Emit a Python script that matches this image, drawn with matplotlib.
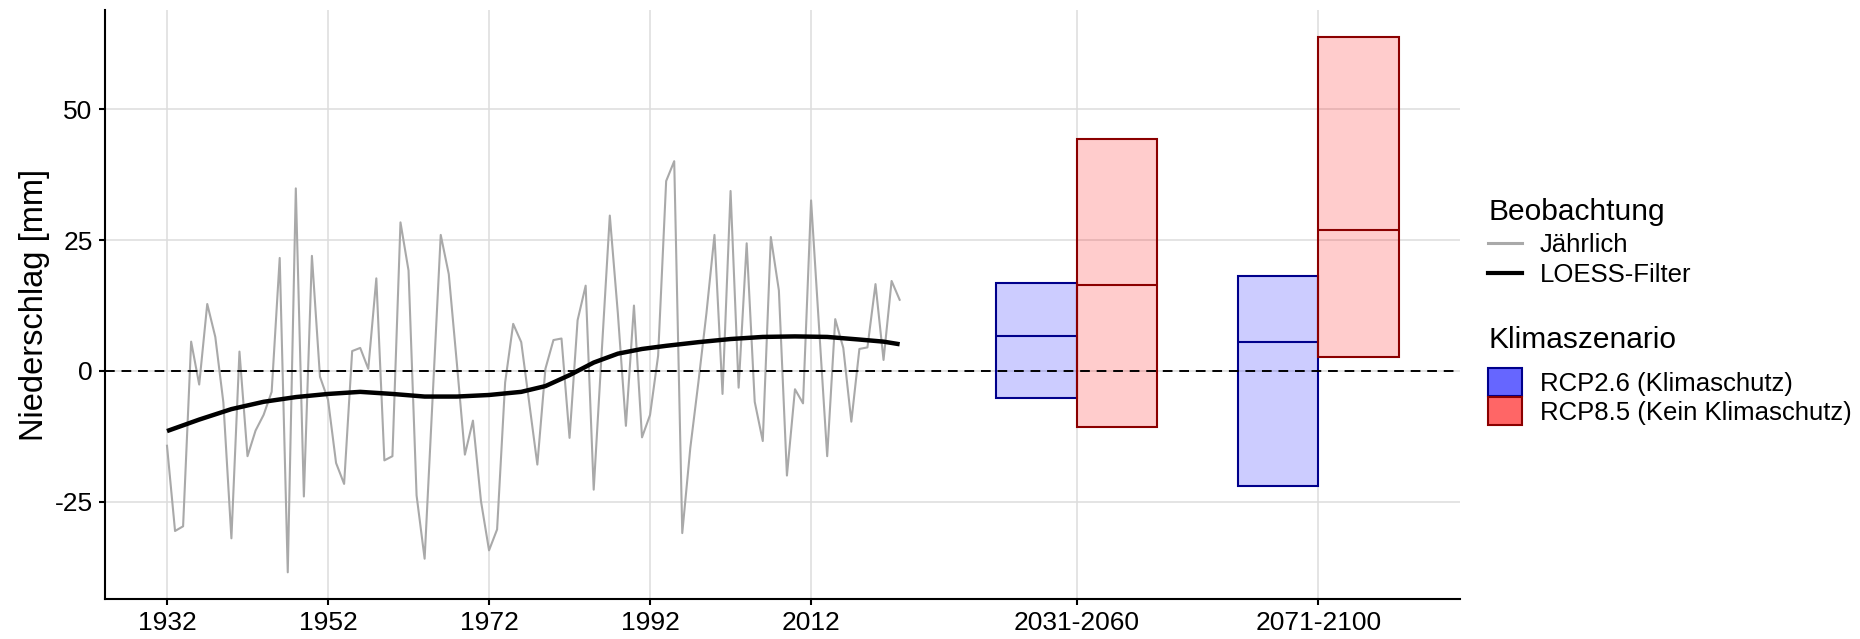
import numpy as np
import matplotlib
matplotlib.use('Agg')
import matplotlib.pyplot as plt
from matplotlib.lines import Line2D
from matplotlib.patches import Patch

plt.rcParams['font.family'] = ['Liberation Sans', 'DejaVu Sans']
plt.rcParams['axes.unicode_minus'] = False

# jährliche Niederschlagsabweichung (mm), 1932-2023
jahre = list(range(1932, 2024))
jaehrlich = [-14.3, -30.6, -29.7, 5.6, -2.6, 12.8, 6.5, -6.0, -32.0, 3.7,
             -16.3, -11.4, -8.4, -4.0, 21.6, -38.5, 34.9, -24.0, 22.0, -1.1,
             -5.5, -17.6, -21.6, 3.8, 4.4, 0.4, 17.7, -17.1, -16.3, 28.4,
             19.2, -23.8, -35.9, -4.9, 26.0, 18.5, 1.5, -16.0, -9.5, -24.9,
             -34.3, -30.3, -2.2, 9.0, 5.5, -6.2, -17.9, 0.4, 5.9, 6.2,
             -12.8, 9.7, 16.3, -22.7, 3.7, 29.7, 11.0, -10.5, 12.5, -12.7,
             -8.4, 2.9, 36.3, 40.1, -31.0, -14.7, -2.2, 11.0, 26.0, -4.4,
             34.4, -3.2, 24.4, -5.9, -13.4, 25.6, 15.4, -20.0, -3.5, -6.2,
             32.6, 8.1, -16.3, 9.9, 4.4, -9.7, 4.2, 4.5, 16.6, 2.1,
             17.2, 13.6]

# LOESS-Filter
loess_jahre = [1932, 1936, 1940, 1944, 1948, 1952, 1956, 1960, 1964, 1968,
               1972, 1976, 1979, 1982, 1985, 1988, 1991, 1994, 1998, 2002,
               2006, 2010, 2014, 2018, 2021, 2023]
loess = [-11.5, -9.3, -7.3, -5.9, -5.0, -4.4, -4.0, -4.4, -4.9, -4.9,
         -4.6, -4.0, -2.9, -0.8, 1.6, 3.3, 4.2, 4.8, 5.5, 6.1,
         6.5, 6.6, 6.5, 6.0, 5.6, 5.1]

# Klimaszenarien: Zeitraum, Position, unten / Median / oben
zeitraeume = ['2031-2060', '2071-2100']
zeitraum_pos = [2045, 2075]
rcp26_unten = [-5.1, -22.0]
rcp26_median = [6.7, 5.5]
rcp26_oben = [16.9, 18.2]
rcp85_unten = [-10.8, 2.65]
rcp85_median = [16.4, 27.0]
rcp85_oben = [44.3, 63.9]

year_ticks = [1932, 1952, 1972, 1992, 2012]

fig = plt.figure(figsize=(18.6, 6.39), dpi=100)
ax = fig.add_axes([105/1860, 1-599/639, (1460-105)/1860, (599-10)/639])

ax.plot(jahre, jaehrlich, color='#A9A9A9', lw=1.5, zorder=2)
ax.plot(loess_jahre, loess, color='black', lw=3.2, zorder=3,
        solid_capstyle='butt')

breite = 10
ax.bar(zeitraum_pos, np.array(rcp26_oben) - np.array(rcp26_unten), width=-breite,
       bottom=rcp26_unten, align='edge', facecolor=(0, 0, 1, 0.2),
       edgecolor='#00008B', lw=1.5, zorder=2)
ax.hlines(rcp26_median, np.array(zeitraum_pos) - breite, zeitraum_pos,
          color='#00008B', lw=1.5, zorder=2)
ax.bar(zeitraum_pos, np.array(rcp85_oben) - np.array(rcp85_unten), width=breite,
       bottom=rcp85_unten, align='edge', facecolor=(1, 0, 0, 0.2),
       edgecolor='#8B0000', lw=1.5, zorder=2)
ax.hlines(rcp85_median, zeitraum_pos, np.array(zeitraum_pos) + breite,
          color='#8B0000', lw=1.5, zorder=2)

ax.axhline(0, color='black', lw=1.4, ls=(0, (5, 3.5)), zorder=4)

ax.set_xlim(1924.3, 2092.6)
ax.set_ylim(-43.6, 69)
ax.set_xticks(year_ticks + zeitraum_pos)
ax.set_xticklabels([str(j) for j in year_ticks] + zeitraeume)
ax.set_yticks([-25, 0, 25, 50])
ax.set_yticklabels(['-25', '0', '25', '50'])
ax.grid(True, color='#DDDDDD', lw=1.1, zorder=0)
ax.set_axisbelow(True)
for s in ['top', 'right']:
    ax.spines[s].set_visible(False)
for s in ['left', 'bottom']:
    ax.spines[s].set_linewidth(1.5)
ax.tick_params(labelsize=19, length=4, width=1.5, colors='black', pad=5)
ax.set_ylabel('Niederschlag [mm]', fontsize=23.5, labelpad=3)

h1 = [Line2D([], [], color='#A9A9A9', lw=2.2), Line2D([], [], color='black', lw=3)]
leg1 = fig.legend(h1, ['Jährlich', 'LOESS-Filter'], title='Beobachtung',
                  loc='upper left', bbox_to_anchor=(1478/1860, 1-188/639),
                  frameon=False, fontsize=18.5, title_fontsize=21.5,
                  alignment='left', handlelength=1.3, handletextpad=0.7,
                  labelspacing=0.25, borderaxespad=0)
h2 = [Patch(facecolor=(0, 0, 1, 0.6), edgecolor='#00008B', lw=1.5),
      Patch(facecolor=(1, 0, 0, 0.6), edgecolor='#8B0000', lw=1.5)]
leg2 = fig.legend(h2, ['RCP2.6 (Klimaschutz)', 'RCP8.5 (Kein Klimaschutz)'],
                  title='Klimaszenario', loc='upper left',
                  bbox_to_anchor=(1478/1860, 1-316/639),
                  frameon=False, fontsize=18.5, title_fontsize=21.5,
                  alignment='left', handlelength=1.3, handleheight=1.3,
                  handletextpad=0.7, labelspacing=0.05, borderaxespad=0)
leg2._legend_box.sep = 10

fig.savefig('out.png', dpi=100)
